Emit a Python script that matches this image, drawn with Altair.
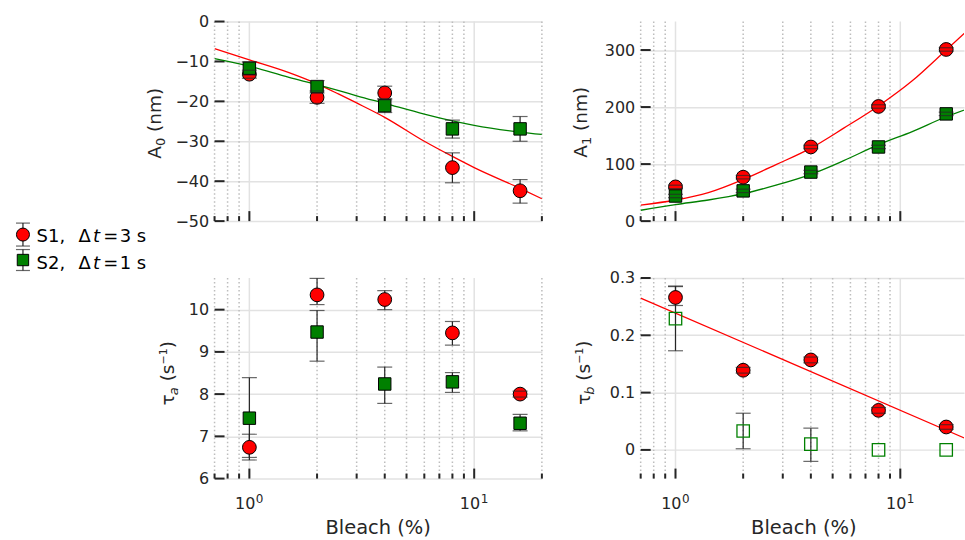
import altair as alt
import pandas as pd

FONT = "DejaVu Sans"
INK = "#262626"
RED = "#ff0000"
GREEN = "#008000"
GRID = "#e2e2e2"
DOT = "#bdbdbd"

# ---------------- data ----------------
BLEACH = [1, 2, 4, 8, 16]

A0_S1 = [-13.2, -19.0, -17.9, -36.6, -42.4]
A0_S1_LO = [-14.2, -20.5, -19.6, -40.4, -45.5]
A0_S1_HI = [-12.2, -17.4, -16.2, -32.9, -39.6]
A0_S2 = [-11.7, -16.3, -21.1, -26.9, -26.9]
A0_S2_LO = [-13.4, -17.9, -22.8, -29.2, -30.0]
A0_S2_HI = [-10.1, -14.8, -19.3, -24.7, -23.8]

A1_S1 = [60, 77, 130, 201, 301]
A1_S1_LO = [57, 74, 127, 198, 298]
A1_S1_HI = [63, 80, 133, 204, 304]
A1_S2 = [44, 53, 86, 130, 188]
A1_S2_LO = [41, 50, 83, 127, 185]
A1_S2_HI = [47, 56, 89, 133, 191]

TA_S1 = [6.74, 10.35, 10.24, 9.45, 8.00]
TA_S1_LO = [6.44, 10.12, 10.00, 9.16, 7.93]
TA_S1_HI = [7.05, 10.74, 10.45, 9.72, 8.07]
TA_S2 = [7.43, 9.47, 8.24, 8.29, 7.31]
TA_S2_LO = [6.50, 8.78, 7.78, 8.04, 7.13]
TA_S2_HI = [8.39, 9.98, 8.64, 8.51, 7.52]

TB_S1 = [0.266, 0.139, 0.157, 0.069, 0.040]
TB_S1_LO = [0.252, 0.134, 0.152, 0.064, 0.036]
TB_S1_HI = [0.286, 0.144, 0.162, 0.074, 0.044]
TB_S2 = [0.229, 0.033, 0.010, 0.0, 0.0]
TB_S2_LO = [0.173, 0.002, -0.020, None, None]
TB_S2_HI = [0.285, 0.064, 0.038, None, None]

A0_FIT_X = [0.7, 1, 1.5, 2, 2.5, 3, 4, 6, 8, 10, 16, 20]
A0_FIT_S1 = [-6.8, -9.6, -12.8, -15.6, -18.2, -20.4, -24.0, -30.0, -33.8, -36.6, -41.8, -44.4]
A0_FIT_S2 = [-9.3, -11.2, -14.0, -15.8, -17.3, -18.6, -20.5, -23.2, -24.9, -26.0, -27.7, -28.3]
A1_FIT_X = [0.7, 1, 1.4, 2, 2.8, 4, 5.6, 8, 11.3, 16, 20]
A1_FIT_S1 = [28, 37, 50, 73, 99, 128, 163, 202, 246, 300, 335]
A1_FIT_S2 = [19, 29, 37, 48, 63, 82, 106, 134, 157, 183, 197]
TB_FIT_X = [0.7, 20]
TB_FIT_S1 = [0.265, 0.018]

X_MAJOR = [1, 10]
X_MINOR = [0.7, 0.8, 0.9, 2, 3, 4, 5, 6, 7, 8, 9, 20]
X_LABEL_BASE = ["10", "10"]
X_LABEL_SUP = ["0", "1"]

Y_TICKS = {
    "a0": [-50, -40, -30, -20, -10, 0],
    "a1": [0, 100, 200, 300],
    "ta": [6, 7, 8, 9, 10],
    "tb": [0, 0.1, 0.2, 0.3],
}
Y_LABEL_EXPR = {
    "a0": "format(datum.value, 'd')",
    "a1": "format(datum.value, 'd')",
    "ta": "format(datum.value, 'd')",
    "tb": "datum.value == 0 ? '0' : format(datum.value, '.1f')",
}
Y_DOMAIN = {
    "a0": [-50, 0],
    "a1": [0, 350],
    "ta": [6, 10.75],
    "tb": [-0.05, 0.3],
}

# ---------------- layout ----------------
COL_W = [328, 324]
ROW_H = [200, 201]
COL_GAP = 99
ROW_GAP = 57
ORIGIN_TL = (214, 20)
ORIGIN_BL = (214, 277)
CIRCLE_SIZE = 190
SQUARE_SIZE = 155

# approximate DejaVu Sans advance widths (em) for composing titles
CHAR_W = {"A": 0.684, "0": 0.636, "1": 0.636, " ": 0.318, "(": 0.390, ")": 0.390,
          "n": 0.634, "m": 0.974, "s": 0.521, "τ": 0.557, "a": 0.613, "b": 0.635,
          "−": 0.838}


def tw(s, size):
    return sum(CHAR_W.get(c, 0.6) for c in s) * size


def ytitle(pieces, bx, cy):
    total = sum(tw(t, s) for t, s, r, i in pieces)
    y0 = cy + total / 2
    out = []
    off = 0.0
    for t, s, r, it in pieces:
        lead = len(t) - len(t.lstrip())
        txt = t.lstrip()
        kw = dict(font=FONT, fontSize=s, color=INK, angle=270, align="left",
                  baseline="alphabetic", dx=off + tw(" " * lead, s), dy=r)
        if it:
            kw["fontStyle"] = "italic"
        out.append(alt.Chart(pd.DataFrame({"t": [txt]})).mark_text(**kw).encode(
            text="t:N", x=alt.value(bx), y=alt.value(y0)))
        off += tw(t, s)
    return out


def series_df(v, lo, hi):
    return pd.DataFrame({"x": BLEACH, "y": v, "lo": lo, "hi": hi})


def panel(key, s1, s2, fits, xmax, width, height, title, tbx, tcy,
          bottom=False, full_w=None, s2_open=False, extra=()):
    xs = alt.Scale(type="log", domain=[0.7, xmax], nice=False, zero=False)
    ys = alt.Scale(domain=Y_DOMAIN[key], nice=False, zero=False)
    yaxis = alt.Axis(values=Y_TICKS[key], labelExpr=Y_LABEL_EXPR[key], labelFont=FONT,
                     labelFontSize=16, labelColor=INK, labelPadding=6, ticks=False,
                     domain=False, grid=True, gridColor=GRID, gridWidth=1.5,
                     labelFlush=False, labelOverlap=False, title=None)

    def X(f):
        return alt.X(f, type="quantitative", scale=xs, axis=None)

    def Y(f):
        return alt.Y(f, type="quantitative", scale=ys, axis=yaxis)

    minor = [v for v in X_MINOR if v <= xmax + 1e-9]
    layers = []
    layers.append(alt.Chart(pd.DataFrame({"x": minor})).mark_rule(
        color=DOT, strokeWidth=1.5, strokeDash=[1.5, 2.5]).encode(x=X("x")))
    layers.append(alt.Chart(pd.DataFrame({"x": X_MAJOR})).mark_rule(
        color=GRID, strokeWidth=1.5).encode(x=X("x")))
    layers.append(alt.Chart(pd.DataFrame({"y": Y_TICKS[key]})).mark_rule(
        color=INK, strokeWidth=2).encode(y=Y("y"), x=alt.value(0), x2=alt.value(10)))
    for fx, fy, col in fits:
        layers.append(alt.Chart(pd.DataFrame({"x": fx, "y": fy})).mark_line(
            color=col, strokeWidth=1.3, clip=True, interpolate="monotone").encode(
            x=X("x"), y=Y("y")))
    d1 = series_df(*s1)
    d2 = series_df(*s2)
    e1 = d1.dropna()
    e2 = d2.dropna()
    for e in (e1, e2):
        layers.append(alt.Chart(e).mark_rule(color=INK, strokeWidth=1.2).encode(
            x=X("x"), y=Y("lo"), y2="hi"))
    layers.append(alt.Chart(d1).mark_point(
        shape="circle", filled=True, fill=RED, stroke="black", strokeWidth=1,
        size=CIRCLE_SIZE, opacity=1).encode(x=X("x"), y=Y("y")))
    if s2_open:
        layers.append(alt.Chart(d2).mark_point(
            shape="square", filled=False, stroke=GREEN, strokeWidth=1.3,
            size=SQUARE_SIZE, opacity=1).encode(x=X("x"), y=Y("y")))
    else:
        layers.append(alt.Chart(d2).mark_point(
            shape="square", filled=True, fill=GREEN, stroke="black", strokeWidth=1,
            size=SQUARE_SIZE, opacity=1).encode(x=X("x"), y=Y("y")))
    for e in (e1, e2):
        caps = pd.DataFrame({"x": list(e["x"]) * 2, "y": list(e["lo"]) + list(e["hi"])})
        layers.append(alt.Chart(caps).mark_tick(
            orient="horizontal", size=15, thickness=1.2, color=INK).encode(
            x=X("x"), y=Y("y")))
    layers.append(alt.Chart(pd.DataFrame({"x": minor})).mark_rule(
        color=INK, strokeWidth=2).encode(x=X("x"), y=alt.value(height), y2=alt.value(height - 5)))
    layers.append(alt.Chart(pd.DataFrame({"x": X_MAJOR})).mark_rule(
        color=INK, strokeWidth=2).encode(x=X("x"), y=alt.value(height), y2=alt.value(height - 10)))
    layers += ytitle(title, tbx, tcy)
    if bottom:
        xl = pd.DataFrame({"x": X_MAJOR, "base": X_LABEL_BASE, "sup": X_LABEL_SUP})
        layers.append(alt.Chart(xl).mark_text(
            font=FONT, fontSize=16, color=INK, align="right", baseline="alphabetic", dx=6
        ).encode(x=X("x"), y=alt.value(height + 30), text="base:N"))
        layers.append(alt.Chart(xl).mark_text(
            font=FONT, fontSize=12, color=INK, align="left", baseline="alphabetic", dx=6.5
        ).encode(x=X("x"), y=alt.value(height + 24), text="sup:N"))
        layers.append(alt.Chart(pd.DataFrame({"t": ["Bleach (%)"]})).mark_text(
            font=FONT, fontSize=19.5, color=INK, align="center", baseline="alphabetic"
        ).encode(x=alt.value((full_w or width) / 2), y=alt.value(height + 56), text="t:N"))
    layers += list(extra)
    return alt.layer(*layers).properties(width=width, height=height)


# ---------------- legend (drawn in the bottom-left panel, page coords minus origin) -------
LEG_LABELS = [["S1,", "Δ", "=", "3", "s"], ["S2,", "Δ", "=", "1", "s"]]
LEG_PIECE_X = [35.7, 77.7, 102.5, 119, 136]
LEG_ITALIC_X = 92.3
LEG_BASE_Y = [241, 268.3]
LEG_SYM_X = 22
LEG_SYM_Y = [233.5, 259]
LEG_CAP_LO = [222, 248.5]
LEG_CAP_HI = [245, 269.5]

ox, oy = ORIGIN_BL
PX = lambda f: alt.X(f, type="quantitative", scale=None, axis=None)
PY = lambda f: alt.Y(f, type="quantitative", scale=None, axis=None)

leg_text = pd.DataFrame({
    "t": LEG_LABELS[0] + LEG_LABELS[1],
    "px": [v - ox for v in LEG_PIECE_X] * 2,
    "py": [LEG_BASE_Y[0] - oy] * 5 + [LEG_BASE_Y[1] - oy] * 5,
})
leg_it = pd.DataFrame({"t": ["t", "t"], "px": [LEG_ITALIC_X - ox] * 2,
                       "py": [v - oy for v in LEG_BASE_Y]})
leg_bar = pd.DataFrame({"px": [LEG_SYM_X - ox] * 2, "y1": [v - oy for v in LEG_CAP_LO],
                        "y2": [v - oy for v in LEG_CAP_HI]})
leg_caps = pd.DataFrame({"px": [LEG_SYM_X - ox] * 4,
                         "py": [v - oy for v in LEG_CAP_LO + LEG_CAP_HI]})

legend_layers = [
    alt.Chart(leg_bar).mark_rule(color=INK, strokeWidth=1.2).encode(
        x=PX("px"), y=PY("y1"), y2="y2"),
    alt.Chart(pd.DataFrame({"px": [LEG_SYM_X - ox], "py": [LEG_SYM_Y[0] - oy]})).mark_point(
        shape="circle", filled=True, fill=RED, stroke="black", strokeWidth=1, size=170,
        opacity=1).encode(x=PX("px"), y=PY("py")),
    alt.Chart(pd.DataFrame({"px": [LEG_SYM_X - ox], "py": [LEG_SYM_Y[1] - oy]})).mark_point(
        shape="square", filled=True, fill=GREEN, stroke="black", strokeWidth=1, size=130,
        opacity=1).encode(x=PX("px"), y=PY("py")),
    alt.Chart(leg_caps).mark_tick(orient="horizontal", size=14, thickness=1.2, color=INK).encode(
        x=PX("px"), y=PY("py")),
    alt.Chart(leg_text).mark_text(font=FONT, fontSize=18, color="black", align="left",
                                  baseline="alphabetic").encode(x=PX("px"), y=PY("py"), text="t:N"),
    alt.Chart(leg_it).mark_text(font=FONT, fontSize=18, color="black", align="left",
                                baseline="alphabetic", fontStyle="italic").encode(
        x=PX("px"), y=PY("py"), text="t:N"),
]

# invisible pin at the page's top-left corner so the layout origin is fixed
pin = [alt.Chart(pd.DataFrame({"p": [0]})).mark_rule(strokeOpacity=0, strokeWidth=0.01).encode(
    x=alt.value(-ORIGIN_TL[0]), x2=alt.value(-ORIGIN_TL[0] + 1),
    y=alt.value(-ORIGIN_TL[1]), y2=alt.value(-ORIGIN_TL[1] + 1))]

TITLE_A0 = [("A", 18.5, 0, False), ("0", 13, 4, False), (" (nm)", 18.5, 0, False)]
TITLE_A1 = [("A", 18.5, 0, False), ("1", 13, 4, False), (" (nm)", 18.5, 0, False)]
TITLE_TA = [("τ", 18.5, 0, False), ("a", 13, 4, True), (" (s", 18.5, 0, False),
            ("−1", 11, -7, False), (")", 18.5, 0, False)]
TITLE_TB = [("τ", 18.5, 0, False), ("b", 13, 4, True), (" (s", 18.5, 0, False),
            ("−1", 11, -7, False), (")", 18.5, 0, False)]

tl = panel("a0", (A0_S1, A0_S1_LO, A0_S1_HI), (A0_S2, A0_S2_LO, A0_S2_HI),
           [(A0_FIT_X, A0_FIT_S1, RED), (A0_FIT_X, A0_FIT_S2, GREEN)],
           20, COL_W[0], ROW_H[0], TITLE_A0, -54, 102, extra=pin)
tr = panel("a1", (A1_S1, A1_S1_LO, A1_S1_HI), (A1_S2, A1_S2_LO, A1_S2_HI),
           [(A1_FIT_X, A1_FIT_S1, RED), (A1_FIT_X, A1_FIT_S2, GREEN)],
           19.2, COL_W[1], ROW_H[0], TITLE_A1, -54, 101)
bl = panel("ta", (TA_S1, TA_S1_LO, TA_S1_HI), (TA_S2, TA_S2_LO, TA_S2_HI),
           [], 20, COL_W[0], ROW_H[1], TITLE_TA, -41, 95.5, bottom=True, full_w=328,
           extra=legend_layers)
br = panel("tb", (TB_S1, TB_S1_LO, TB_S1_HI), (TB_S2, TB_S2_LO, TB_S2_HI),
           [(TB_FIT_X, TB_FIT_S1, RED)], 19.2, COL_W[1], ROW_H[1], TITLE_TB, -51, 95,
           bottom=True, full_w=327, s2_open=True)

chart = alt.concat(
    tl, tr, bl, br, columns=2, bounds="flush",
    spacing={"row": ROW_GAP, "column": COL_GAP},
).properties(
    padding={"left": 0, "right": 0, "top": 0, "bottom": 0}
).configure_view(stroke="transparent")

chart.save("out.html", embed_options={"renderer": "svg", "actions": False})
